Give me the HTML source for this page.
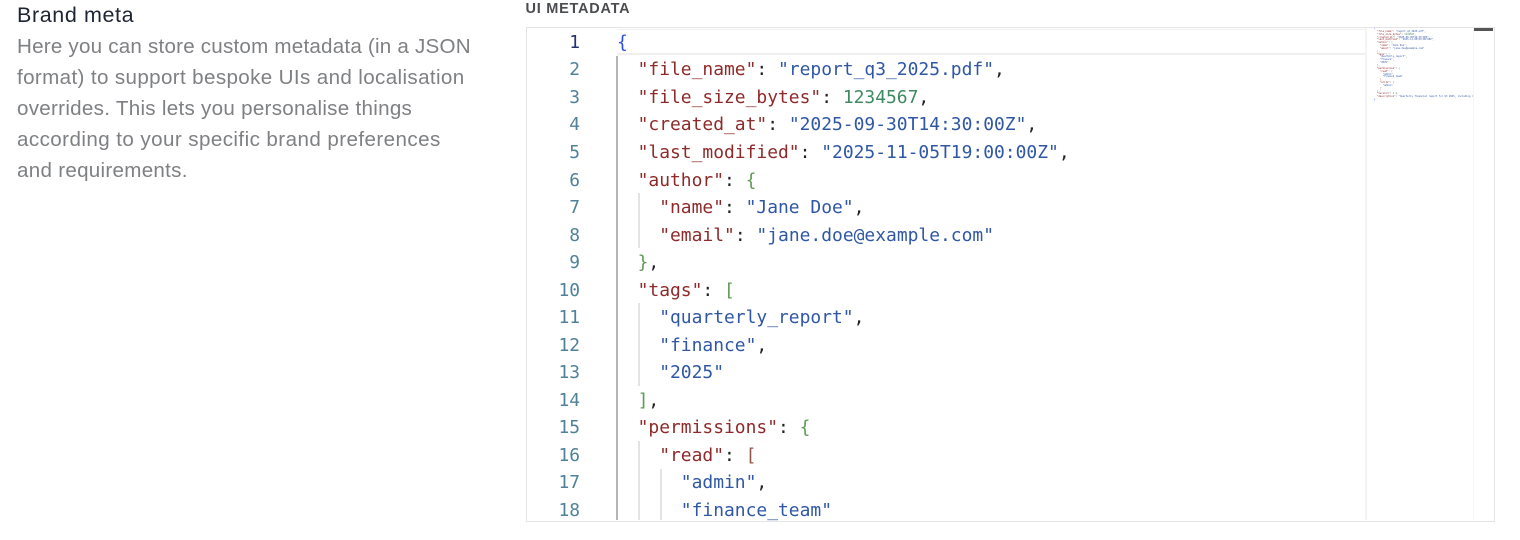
<!DOCTYPE html>
<html><head><meta charset="utf-8">
<style>
html,body{margin:0;padding:0;background:#fff;}
body{width:1520px;height:540px;position:relative;overflow:hidden;font-family:"Liberation Sans",sans-serif;}
#w{position:absolute;left:0;top:0;width:1520px;height:540px;filter:blur(.35px);}
.a{position:absolute;white-space:pre;}
.d{color:#7f8083;font-size:20.6px;line-height:31px;left:17px;letter-spacing:.28px;}
.ed{left:525.5px;top:27px;width:969px;height:495px;border:1.5px solid #e4e4e4;box-sizing:border-box;position:absolute;overflow:hidden;}
.l{position:absolute;left:616px;margin-top:.7px;font-family:"DejaVu Sans Mono",monospace;font-size:17.95px;line-height:27.53px;height:27.53px;white-space:pre;color:#222;}
.n{position:absolute;left:530px;width:50px;margin-top:.7px;text-align:right;font-family:"DejaVu Sans Mono",monospace;font-size:17.9px;line-height:27.53px;color:#4f8299;}
.k{color:#8f2a2a}.s{color:#2f57a5}.g{color:#5f9a55}.r{color:#95564a}.v{color:#3f8a60}
.ig{position:absolute;width:2px;background:#e3e3e3;}
.mm{position:absolute;left:1374px;top:28px;width:99px;height:75px;overflow:hidden;font-family:"DejaVu Sans Mono",monospace;font-size:2.4px;line-height:2.85px;white-space:pre;color:#222;}
</style></head><body><div id="w">
<div class="a" style="left:17px;top:1px;font-size:21.5px;line-height:28px;color:#1d2433;letter-spacing:.6px;">Brand meta</div>
<div class="a d" style="top:31px;letter-spacing:.215px;">Here you can store custom metadata (in a JSON</div>
<div class="a d" style="top:62px;letter-spacing:.365px;">format) to support bespoke UIs and localisation</div>
<div class="a d" style="top:93px;">overrides. This lets you personalise things</div>
<div class="a d" style="top:124px;letter-spacing:.42px;">according to your specific brand preferences</div>
<div class="a d" style="top:155px;">and requirements.</div>
<div class="a" style="left:525.5px;top:1px;font-size:14.5px;line-height:16px;font-weight:bold;color:#4a4c50;letter-spacing:.75px;">UI METADATA</div>

<div class="ed"></div>
<div style="position:absolute;left:617px;top:29px;width:748px;height:26px;border-top:1.5px solid #f0f0f0;border-bottom:2px solid #efefef;box-sizing:border-box;"></div>
<div style="position:absolute;left:1365px;top:28px;width:1.5px;height:492px;background:#f4f4f4;"></div>
<div style="position:absolute;left:1473px;top:28px;width:1px;height:492px;background:#f5f5f5;"></div>
<div style="position:absolute;left:1474px;top:28px;width:19px;height:3px;background:#555;"></div>

<div class="ig" style="left:616px;top:56px;height:464px;background:#b5b5b5;"></div>
<div class="ig" style="left:638px;top:193px;height:55px;"></div>
<div class="ig" style="left:638px;top:303px;height:83px;"></div>
<div class="ig" style="left:638px;top:441px;height:79px;"></div>
<div class="ig" style="left:660px;top:469px;height:51px;"></div>

<div class="n" style="top:28.2px;color:#27316f;">1</div>
<div class="n" style="top:55.7px;">2</div>
<div class="n" style="top:83.3px;">3</div>
<div class="n" style="top:110.8px;">4</div>
<div class="n" style="top:138.3px;">5</div>
<div class="n" style="top:165.9px;">6</div>
<div class="n" style="top:193.4px;">7</div>
<div class="n" style="top:220.9px;">8</div>
<div class="n" style="top:248.4px;">9</div>
<div class="n" style="top:276px;">10</div>
<div class="n" style="top:303.5px;">11</div>
<div class="n" style="top:331px;">12</div>
<div class="n" style="top:358.6px;">13</div>
<div class="n" style="top:386.1px;">14</div>
<div class="n" style="top:413.6px;">15</div>
<div class="n" style="top:441.2px;">16</div>
<div class="n" style="top:468.7px;">17</div>
<div class="n" style="top:496.2px;">18</div>

<div class="l" style="top:28.2px;left:617px;"><span style="color:#2b4fe0">{</span></div>
<div class="l" style="top:55.7px;">  <span class="k">"file_name"</span>: <span class="s">"report_q3_2025.pdf"</span>,</div>
<div class="l" style="top:83.3px;">  <span class="k">"file_size_bytes"</span>: <span class="v">1234567</span>,</div>
<div class="l" style="top:110.8px;">  <span class="k">"created_at"</span>: <span class="s">"2025-09-30T14:30:00Z"</span>,</div>
<div class="l" style="top:138.3px;">  <span class="k">"last_modified"</span>: <span class="s">"2025-11-05T19:00:00Z"</span>,</div>
<div class="l" style="top:165.9px;">  <span class="k">"author"</span>: <span class="g">{</span></div>
<div class="l" style="top:193.4px;">    <span class="k">"name"</span>: <span class="s">"Jane Doe"</span>,</div>
<div class="l" style="top:220.9px;">    <span class="k">"email"</span>: <span class="s">"jane.doe@example.com"</span></div>
<div class="l" style="top:248.4px;">  <span class="g">}</span>,</div>
<div class="l" style="top:276px;">  <span class="k">"tags"</span>: <span class="g">[</span></div>
<div class="l" style="top:303.5px;">    <span class="s">"quarterly_report"</span>,</div>
<div class="l" style="top:331px;">    <span class="s">"finance"</span>,</div>
<div class="l" style="top:358.6px;">    <span class="s">"2025"</span></div>
<div class="l" style="top:386.1px;">  <span class="g">]</span>,</div>
<div class="l" style="top:413.6px;">  <span class="k">"permissions"</span>: <span class="g">{</span></div>
<div class="l" style="top:441.2px;">    <span class="k">"read"</span>: <span class="r">[</span></div>
<div class="l" style="top:468.7px;">      <span class="s">"admin"</span>,</div>
<div class="l" style="top:496.2px;">      <span class="s">"finance_team"</span></div>

<div class="mm"><span style="color:#2b4fe0">{</span>
  <span class="k">"file_name"</span>: <span class="s">"report_q3_2025.pdf"</span>,
  <span class="k">"file_size_bytes"</span>: <span class="v">1234567</span>,
  <span class="k">"created_at"</span>: <span class="s">"2025-09-30T14:30:00Z"</span>,
  <span class="k">"last_modified"</span>: <span class="s">"2025-11-05T19:00:00Z"</span>,
  <span class="k">"author"</span>: <span class="g">{</span>
    <span class="k">"name"</span>: <span class="s">"Jane Doe"</span>,
    <span class="k">"email"</span>: <span class="s">"jane.doe@example.com"</span>
  <span class="g">}</span>,
  <span class="k">"tags"</span>: <span class="g">[</span>
    <span class="s">"quarterly_report"</span>,
    <span class="s">"finance"</span>,
    <span class="s">"2025"</span>
  <span class="g">]</span>,
  <span class="k">"permissions"</span>: <span class="g">{</span>
    <span class="k">"read"</span>: <span class="r">[</span>
      <span class="s">"admin"</span>,
      <span class="s">"finance_team"</span>
    <span class="r">]</span>,
    <span class="k">"write"</span>: <span class="r">[</span>
      <span class="s">"admin"</span>
    <span class="r">]</span>
  <span class="g">}</span>,
  <span class="k">"version"</span>: <span class="v">1.2</span>,
  <span class="k">"description"</span>: <span class="s">"Quarterly financial report for Q3 2025, including revenue"</span>
<span style="color:#2b4fe0">}</span></div>
</div></body></html>
